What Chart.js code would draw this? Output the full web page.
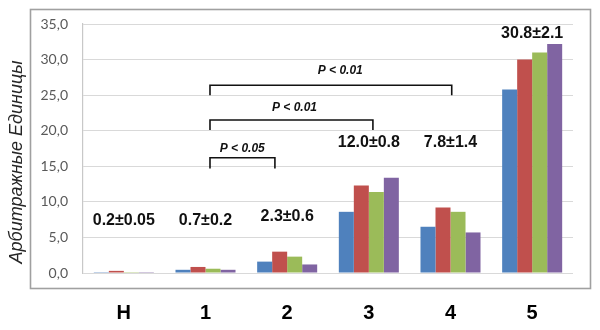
<!DOCTYPE html>
<html>
<head>
<meta charset="utf-8">
<script src="https://cdn.jsdelivr.net/npm/chart.js@4/dist/chart.umd.min.js"></script>
<style>
  html, body { margin: 0; padding: 0; background: #ffffff; }
  #wrap { position: relative; width: 600px; height: 330px; }
</style>
</head>
<body>
<div id="wrap"><canvas id="c" width="600" height="330"></canvas></div>
<script>
// ---- data ----
const categories = ['Н', '1', '2', '3', '4', '5'];
const seriesBlue   = [0.12, 0.45, 1.6, 8.6, 6.5, 25.8];
const seriesRed    = [0.30, 0.85, 3.0, 12.3, 9.2, 30.0];
const seriesGreen  = [0.12, 0.60, 2.3, 11.4, 8.6, 31.0];
const seriesPurple = [0.12, 0.45, 1.2, 13.4, 5.7, 32.2];
const yTicksMin = 0, yTicksMax = 35, yTicksStep = 5;
const yTitle = 'Арбитражные Единицы';
// group labels: [category index, y value, text]
const groupLabels = [
  [0, 7.3, '0.2±0.05'],
  [1, 7.3, '0.7±0.2'],
  [2, 7.9, '2.3±0.6'],
  [3, 18.4, '12.0±0.8'],
  [4, 18.4, '7.8±1.4'],
  [5, 33.6, '30.8±2.1']
];
// significance brackets: [from index, to index, y of bar, y of leg end, label x index, label y, text]
const brackets = [
  [1.055, 4.015, 26.4, 25.0, 2.65, 28.4, 'P < 0.01'],
  [1.055, 3.05, 21.5, 20.1, 2.09, 23.3, 'P < 0.01'],
  [1.055, 1.85, 16.2, 14.7, 1.45, 17.5, 'P < 0.05']
];

const annotations = {
  id: 'annotations',
  beforeDraw(chart) {
    const ctx = chart.ctx;
    ctx.save();
    ctx.strokeStyle = '#a0a0a0';
    ctx.lineWidth = 1.6;
    ctx.strokeRect(30.5, 9.5, 560, 279);
    ctx.restore();
  },
  afterDraw(chart) {
    const ctx = chart.ctx;
    const xs = chart.scales.x, ys = chart.scales.y;
    ctx.save();
    // y title
    ctx.fillStyle = '#262626';
    ctx.font = 'italic 18px "Liberation Sans", Arial, sans-serif';
    ctx.textAlign = 'center';
    ctx.textBaseline = 'middle';
    ctx.translate(17, 162);
    ctx.rotate(-Math.PI / 2);
    ctx.fillText(yTitle, 0, 0);
    ctx.restore();

    ctx.save();
    ctx.fillStyle = '#111111';
    ctx.font = 'bold 16px "Liberation Sans", Arial, sans-serif';
    ctx.textAlign = 'center';
    ctx.textBaseline = 'middle';
    groupLabels.forEach(([i, v, t]) => {
      ctx.fillText(t, xs.getPixelForValue(i), ys.getPixelForValue(v));
    });
    ctx.strokeStyle = '#111111';
    ctx.lineWidth = 1.6;
    ctx.font = 'bold italic 12px "Liberation Sans", Arial, sans-serif';
    brackets.forEach(([a, b, yv, ye, lx, ly, t]) => {
      const x1 = xs.getPixelForValue(a), x2 = xs.getPixelForValue(b);
      const y1 = ys.getPixelForValue(yv), y2 = ys.getPixelForValue(ye);
      ctx.beginPath();
      ctx.moveTo(x1, y2);
      ctx.lineTo(x1, y1);
      ctx.lineTo(x2, y1);
      ctx.lineTo(x2, y2);
      ctx.stroke();
      ctx.fillText(t, xs.getPixelForValue(lx), ys.getPixelForValue(ly));
    });
    ctx.restore();
  }
};

new Chart(document.getElementById('c'), {
  type: 'bar',
  data: {
    labels: categories,
    datasets: [
      { label: 'A', data: seriesBlue, backgroundColor: '#4f81bd' },
      { label: 'B', data: seriesRed, backgroundColor: '#c0504d' },
      { label: 'C', data: seriesGreen, backgroundColor: '#9bbb59' },
      { label: 'D', data: seriesPurple, backgroundColor: '#8064a2' }
    ]
  },
  options: {
    responsive: false,
    animation: false,
    devicePixelRatio: 1,
    layout: { padding: { left: 0, right: 27, top: 24, bottom: 0 } },
    datasets: { bar: { categoryPercentage: 0.735, barPercentage: 1.0 } },
    plugins: { legend: { display: false }, tooltip: { enabled: false } },
    scales: {
      x: {
        grid: { display: false, drawTicks: false },
        border: { display: false },
        ticks: {
          color: '#000000',
          padding: 28,
          font: { family: '"Liberation Sans", Arial, sans-serif', size: 20, weight: 'bold' }
        },
        afterFit(scale) { scale.height = 57; }
      },
      y: {
        min: yTicksMin, max: yTicksMax,
        grid: { color: '#d9d9d9', lineWidth: 1, drawTicks: false },
        border: { display: true, color: '#c8c8c8', width: 1.2 },
        ticks: {
          stepSize: yTicksStep,
          color: '#595959',
          padding: 15,
          font: { family: 'Lato, "Liberation Sans", sans-serif', size: 14 },
          callback: (v) => Number(v).toFixed(1).replace('.', ',')
        },
        afterFit(scale) { scale.width = 83; }
      }
    }
  },
  plugins: [annotations]
});
</script>
</body>
</html>
